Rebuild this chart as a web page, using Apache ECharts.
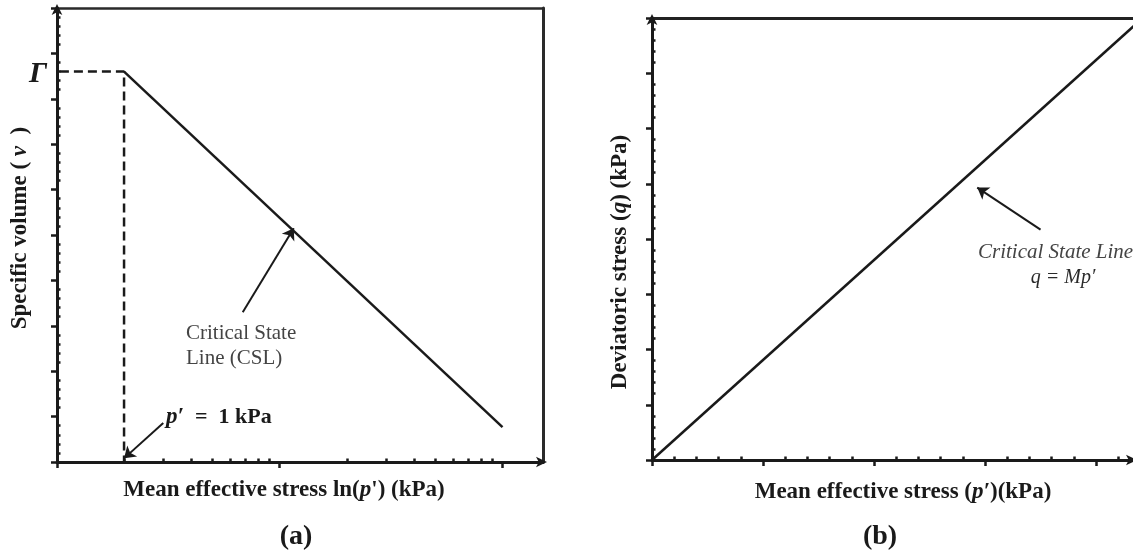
<!DOCTYPE html>
<html>
<head>
<meta charset="utf-8">
<script src="https://cdn.jsdelivr.net/npm/echarts@6/dist/echarts.min.js"></script>
<style>
  html, body { margin: 0; padding: 0; background: #fff; }
  #chart { width: 1133px; height: 550px; }
</style>
</head>
<body>
<div id="chart"></div>
<script>
// ---- (a) specific volume vs ln(p') ----
const pAxisMin = 0.5;          // p' at the origin of the log axis
const pAxisMax = 76;           // p' at the arrow end of the axis
const pTicksMajor = [0.5, 5, 50];
const pTicksMinor = [1, 1.5, 2, 2.5, 3, 3.5, 4, 4.5, 10, 15, 20, 25, 30, 35, 40, 45];
const vAxisMax = 10;
const cslP = [1, 50];          // p' (kPa) at the ends of the CSL
const cslV = [8.6, 0.77];      // specific volume at those ends (Γ at p' = 1)
const gammaV = 8.6;
const refP = 1;                // p' = 1 kPa reference
// annotation arrows: [p' tail, v tail, p' tip, v tip]
const arrowCslA = [3.41, 3.30, 5.78, 5.15];
const arrowRefA = [1.50, 0.86, 1.0, 0.08];

// ---- (b) deviatoric stress vs p' ----
const pLinMax = 4.333;
const pLinMajor = [0, 1, 2, 3, 4];
const pLinMinor = [0.2, 0.4, 0.6, 0.8, 1.2, 1.4, 1.6, 1.8, 2.2, 2.4, 2.6, 2.8, 3.2, 3.4, 3.6, 3.8, 4.2];
const qMax = 8;
const lineP = [0, 4.42];
const lineQ = [0, 8.0];
const arrowCslB = [3.50, 4.17, 2.93, 4.93];

const ln = Math.log;
const serif = 'Liberation Serif';
const ink = '#1a1a1a';
const note = '#444';

const chart = echarts.init(document.getElementById('chart'), null, { renderer: 'canvas' });

const axisArrow = { symbol: ['none', 'arrow'], symbolSize: [8, 11], symbolOffset: [0, 4] };
const noLabels = { axisLabel: { show: false }, splitLine: { show: false } };

function axisLine(width, color, arrow) {
  return Object.assign({ show: true, onZero: false, lineStyle: { color: color, width: width } }, arrow ? axisArrow : {});
}

function arrowMark(a, toX) {
  return {
    silent: true,
    symbol: ['none', 'arrow'],
    symbolSize: 11,
    label: { show: false },
    lineStyle: { color: ink, width: 2, type: 'solid' },
    emphasis: { disabled: true },
    data: [[{ coord: [toX(a[0]), a[1]] }, { coord: [toX(a[2]), a[3]] }]]
  };
}

const majorTick = { color: ink, width: 2.5 };
const minorTick = { color: ink, width: 2.5 };

const option = {
  animation: false,
  backgroundColor: '#fff',
  grid: [
    { left: 57, top: 8, right: 1133 - 543, bottom: 550 - 462 },
    { left: 652, top: 18, right: 0, bottom: 550 - 460 }
  ],
  xAxis: [
    Object.assign({ // (a) main axis with major ticks
      gridIndex: 0, type: 'value', min: ln(pAxisMin), max: ln(pAxisMax),
      axisLine: axisLine(3, ink, true),
      axisTick: { show: true, length: 6, customValues: pTicksMajor.map(ln), lineStyle: majorTick }
    }, noLabels),
    Object.assign({ // (a) minor ticks, inside
      gridIndex: 0, type: 'value', position: 'bottom', min: ln(pAxisMin), max: ln(pAxisMax),
      axisLine: { show: false, onZero: false },
      axisTick: { show: true, inside: true, length: 3.5, customValues: pTicksMinor.map(ln), lineStyle: minorTick }
    }, noLabels),
    Object.assign({ // (a) top frame
      gridIndex: 0, type: 'value', position: 'top', min: 0, max: 1,
      axisLine: axisLine(2.5, '#2a2a2a', false), axisTick: { show: false }
    }, noLabels),
    Object.assign({ // (b) main axis
      gridIndex: 1, type: 'value', min: 0, max: pLinMax,
      axisLine: axisLine(3, ink, true),
      axisTick: { show: true, length: 6, customValues: pLinMajor, lineStyle: majorTick }
    }, noLabels),
    Object.assign({ // (b) minor ticks, inside
      gridIndex: 1, type: 'value', position: 'bottom', min: 0, max: pLinMax,
      axisLine: { show: false, onZero: false },
      axisTick: { show: true, inside: true, length: 3.5, customValues: pLinMinor, lineStyle: minorTick }
    }, noLabels),
    Object.assign({ // (b) top frame
      gridIndex: 1, type: 'value', position: 'top', min: 0, max: 1,
      axisLine: axisLine(3, '#222', false), axisTick: { show: false }
    }, noLabels)
  ],
  yAxis: [
    Object.assign({ // (a) main
      gridIndex: 0, type: 'value', position: 'left', min: 0, max: vAxisMax, interval: 1,
      axisLine: axisLine(3, ink, true),
      axisTick: { show: true, length: 6, lineStyle: majorTick }
    }, noLabels),
    Object.assign({ // (a) minor ticks, inside
      gridIndex: 0, type: 'value', position: 'left', min: 0, max: vAxisMax, interval: 1,
      axisLine: { show: false, onZero: false }, axisTick: { show: false, inside: true },
      minorTick: { show: true, splitNumber: 5, length: 3.5, lineStyle: minorTick }
    }, noLabels),
    Object.assign({ // (a) right frame
      gridIndex: 0, type: 'value', position: 'right', min: 0, max: 1,
      axisLine: axisLine(3, '#2a2a2a', false), axisTick: { show: false }
    }, noLabels),
    Object.assign({ // (b) main
      gridIndex: 1, type: 'value', position: 'left', min: 0, max: qMax, interval: 1,
      axisLine: axisLine(3, ink, true),
      axisTick: { show: true, length: 6, lineStyle: majorTick }
    }, noLabels),
    Object.assign({ // (b) minor ticks, inside
      gridIndex: 1, type: 'value', position: 'left', min: 0, max: qMax, interval: 1,
      axisLine: { show: false, onZero: false }, axisTick: { show: false, inside: true },
      minorTick: { show: true, splitNumber: 5, length: 3.5, lineStyle: minorTick }
    }, noLabels)
  ],
  series: [
    { // Γ reference: horizontal to p' = 1, then down to the axis
      type: 'line', xAxisIndex: 0, yAxisIndex: 0, symbol: 'none', silent: true,
      data: [[ln(pAxisMin) + 0.03, gammaV], [ln(refP), gammaV], [ln(refP), 0]],
      lineStyle: { color: ink, width: 2.5, type: [9, 5] },
      markLine: arrowMark(arrowRefA, ln)
    },
    { // critical state line in v – ln p'
      type: 'line', xAxisIndex: 0, yAxisIndex: 0, symbol: 'none', silent: true,
      data: cslP.map((p, i) => [ln(p), cslV[i]]),
      lineStyle: { color: ink, width: 2.5 },
      markLine: arrowMark(arrowCslA, ln)
    },
    { // critical state line q = M p'
      type: 'line', xAxisIndex: 3, yAxisIndex: 3, symbol: 'none', silent: true,
      data: lineP.map((p, i) => [p, lineQ[i]]),
      lineStyle: { color: ink, width: 2.5 },
      markLine: arrowMark(arrowCslB, (x) => x)
    }
  ],
  graphic: [
    { type: 'text', x: 38, y: 74, style: { text: 'Γ', font: `italic bold 30px "${serif}"`, fill: ink, align: 'center', verticalAlign: 'middle' } },
    { type: 'text', x: 20, y: 228, rotation: Math.PI / 2,
      style: { text: '{b|Specific volume (}{i| v }{b| )}', align: 'center', verticalAlign: 'middle', fill: ink,
        rich: { b: { font: `bold 23px "${serif}"`, fill: ink }, i: { font: `italic bold 23px "${serif}"`, fill: ink } } } },
    { type: 'text', x: 284, y: 490,
      style: { text: '{b|Mean effective stress ln(}{i|p}{b|\') (kPa)}', align: 'center', verticalAlign: 'middle', fill: ink,
        rich: { b: { font: `bold 23px "${serif}"`, fill: ink }, i: { font: `italic bold 23px "${serif}"`, fill: ink } } } },
    { type: 'text', x: 296, y: 537, style: { text: '(a)', font: `bold 28px "${serif}"`, fill: ink, align: 'center', verticalAlign: 'middle' } },
    { type: 'text', x: 186, y: 333, style: { text: 'Critical State', font: `21px "${serif}"`, fill: note, align: 'left', verticalAlign: 'middle' } },
    { type: 'text', x: 186, y: 358, style: { text: 'Line (CSL)', font: `21px "${serif}"`, fill: note, align: 'left', verticalAlign: 'middle' } },
    { type: 'text', x: 166, y: 417,
      style: { text: '{i|p′}{b|  =  1 kPa}', align: 'left', verticalAlign: 'middle', fill: ink,
        rich: { b: { font: `bold 22px "${serif}"`, fill: ink }, i: { font: `italic bold 23px "${serif}"`, fill: ink } } } },

    { type: 'text', x: 620, y: 262, rotation: Math.PI / 2,
      style: { text: '{b|Deviatoric stress (}{i|q}{b|) (kPa)}', align: 'center', verticalAlign: 'middle', fill: ink,
        rich: { b: { font: `bold 23px "${serif}"`, fill: ink }, i: { font: `italic bold 23px "${serif}"`, fill: ink } } } },
    { type: 'text', x: 903, y: 492,
      style: { text: '{b|Mean effective stress (}{i|p′}{b|)(kPa)}', align: 'center', verticalAlign: 'middle', fill: ink,
        rich: { b: { font: `bold 23px "${serif}"`, fill: ink }, i: { font: `italic bold 23px "${serif}"`, fill: ink } } } },
    { type: 'text', x: 880, y: 537, style: { text: '(b)', font: `bold 28px "${serif}"`, fill: ink, align: 'center', verticalAlign: 'middle' } },
    { type: 'text', x: 978, y: 252, style: { text: 'Critical State Line', font: `italic 21px "${serif}"`, fill: note, align: 'left', verticalAlign: 'middle' } },
    { type: 'text', x: 1063, y: 278, style: { text: 'q = Mp′', font: `italic 20px "${serif}"`, fill: '#2a2a2a', align: 'center', verticalAlign: 'middle' } }
  ]
};

chart.setOption(option);
</script>
</body>
</html>
